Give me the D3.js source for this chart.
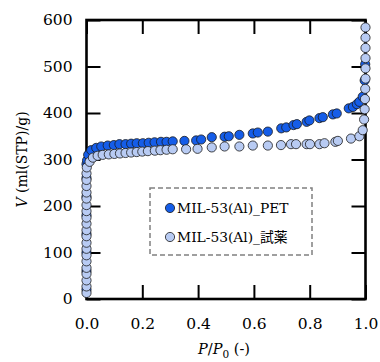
<!DOCTYPE html>
<html><head><meta charset="utf-8">
<script src="https://cdn.jsdelivr.net/npm/d3@7"></script>
<style>
body{margin:0;background:#fff;}
</style></head>
<body><svg id="c" width="380" height="362"></svg>
<script>
// ---- data ----
const seriesNames = ["MIL-53(Al)_PET", "MIL-53(Al)_試薬"];
const xTicks = [0.0, 0.2, 0.4, 0.6, 0.8, 1.0];
const yTicks = [0, 100, 200, 300, 400, 500, 600];

const petP = [0,0,0,0,0,0,0,0,
  0.002,0.006,0.017,0.035,0.053,0.076,0.098,0.118,0.140,0.160,0.180,0.202,0.223,0.244,0.267,0.287,0.309,
  0.351,0.393,0.411,0.449,0.495,0.510,0.548,0.596,0.614,0.650,0.698,0.716,0.742,0.754,0.789,0.799,
  0.835,0.847,0.883,0.897,0.940,0.955,0.969,0.978,0.990,0.997,0.999];
const petV = [20,60,100,140,180,220,260,290,
  298,310,320,325,328,330,331,333,333,334,335,335,336,337,338,338,339,
  340,341,343,348,349,350,353,356,358,360,367,369,374,376,381,384,
  389,391,397,399,410,413,419,424,435,470,505];

const regP = [0,0,0,0,0,0,0,0,0,0,0,0,0,0,0,0,0,0,0,0,0.001,
  0.011,0.023,0.040,0.058,0.080,0.100,0.120,0.140,0.160,0.180,0.200,0.220,0.245,0.265,0.287,0.309,
  0.357,0.398,0.449,0.495,0.548,0.596,0.650,0.697,0.733,0.751,0.789,0.801,0.835,0.853,0.892,0.901,
  0.948,0.978,0.990,0.995,0.997,0.998,0.999,1.0,1.0,1.0,1.0,1.0,1.0];
const regV = [13,27,40,54,67,81,94,108,121,135,148,162,175,189,202,216,229,243,256,270,283,
  295,304,308,310,311,312,313,314,315,316,317,318,319,320,321,322,
  322,323,326,328,328,330,330,331,333,333,333,333,333,335,338,340,
  345,350,363,386,408,430,452,474,496,518,540,562,584];

const colors = ["#155de8", "#b8cbf3"];
const FONT = '"DejaVu Serif","Noto Sans CJK JP",serif';

// ---- chart ----
const svg = d3.select("#c");
const L = 86.5, R = 365.5, T = 20, B = 299;
const x = d3.scaleLinear().domain([0, 1]).range([L, R]);
const y = d3.scaleLinear().domain([0, 600]).range([B, T]);

const gl = svg.append("g").attr("transform", `translate(${L},0)`)
  .call(d3.axisLeft(y).tickValues(yTicks).tickSizeInner(-14).tickSizeOuter(0).tickPadding(14).tickFormat(d3.format("d")));
const gb = svg.append("g").attr("transform", `translate(0,${B})`)
  .call(d3.axisBottom(x).tickValues(xTicks).tickSizeInner(-14).tickSizeOuter(0).tickPadding(19).tickFormat(d3.format(".1f")));
const gt = svg.append("g").attr("transform", `translate(0,${T})`)
  .call(d3.axisTop(x).tickValues(xTicks).tickSizeInner(-14).tickSizeOuter(0).tickFormat(""));
const gr = svg.append("g").attr("transform", `translate(${R},0)`)
  .call(d3.axisRight(y).tickValues(yTicks).tickSizeInner(-14).tickSizeOuter(0).tickFormat(""));
[gl, gb, gt, gr].forEach(g => {
  g.attr("font-family", FONT);
  g.select(".domain").remove();
  g.selectAll(".tick line").attr("stroke", "#000").attr("stroke-width", 2);
  g.selectAll(".tick text").attr("font-size", 15.5).attr("fill", "#000");
});
gb.selectAll(".tick text").attr("dy", "0.71em");

svg.append("rect").attr("x", L).attr("y", T).attr("width", R - L).attr("height", B - T)
  .attr("fill", "none").attr("stroke", "#000").attr("stroke-width", 2.6);

// points
const pet = petP.map((p, i) => ({p, v: petV[i]}));
const reg = regP.map((p, i) => ({p, v: regV[i]}));
[[pet, colors[0]], [reg, colors[1]]].forEach(([data, col]) => {
  svg.append("g").selectAll("circle").data(data).join("circle")
    .attr("cx", d => x(d.p)).attr("cy", d => y(d.v)).attr("r", 4.6)
    .attr("fill", col).attr("stroke", "#1a1a1a").attr("stroke-width", 0.8);
});

// axis titles
const yt = svg.append("text").attr("transform", `translate(27,${(T + B) / 2}) rotate(-90)`)
  .attr("text-anchor", "middle").attr("font-family", FONT).attr("font-size", 14);
yt.append("tspan").attr("font-style", "italic").text("V");
yt.append("tspan").text(" (ml(STP)/g)");

const xt = svg.append("text").attr("x", 224).attr("y", 354)
  .attr("text-anchor", "middle").attr("font-family", FONT).attr("font-size", 14.5);
xt.append("tspan").attr("font-style", "italic").text("P");
xt.append("tspan").text("/");
xt.append("tspan").attr("font-style", "italic").text("P");
xt.append("tspan").attr("dy", 4).attr("font-size", 10.5).text("0");
xt.append("tspan").attr("dy", -4).text(" (-)");

// legend
const lg = svg.append("g").attr("font-family", FONT);
lg.append("rect").attr("x", 150).attr("y", 188).attr("width", 162).attr("height", 67)
  .attr("fill", "#fff").attr("stroke", "#808080").attr("stroke-width", 1.5).attr("stroke-dasharray", "5,3");
seriesNames.forEach((n, i) => {
  const cy = 208 + i * 29;
  lg.append("circle").attr("cx", 170).attr("cy", cy).attr("r", 4.6)
    .attr("fill", colors[i]).attr("stroke", "#1a1a1a").attr("stroke-width", 0.8);
  lg.append("text").attr("x", 177).attr("y", cy + 5).attr("font-size", 13.8).text(n);
});
</script></body></html>
